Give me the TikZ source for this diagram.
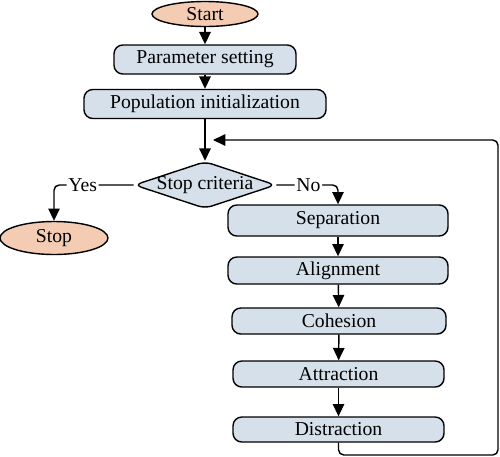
\documentclass[tikz,border=0pt]{standalone}
\usepackage{fontspec}
\setmainfont{Liberation Serif}
\usepackage{tikz}
\usetikzlibrary{shapes.geometric, arrows.meta, positioning}
\definecolor{termpeach}{HTML}{F4CCB4}
\definecolor{stepgray}{HTML}{D6E0EA}

\tikzset{
  termnode/.style={ellipse, draw=black, fill=termpeach, line width=0.8pt, inner sep=0pt, font=\fontsize{11.2}{11.2}\selectfont},
  procbox/.style={rectangle, rounded corners=5pt, draw=black, fill=stepgray, line width=0.8pt, inner sep=0pt, font=\fontsize{11.2}{11.2}\selectfont},
  decnode/.style={diamond, aspect=3, rounded corners=4pt, draw=black, fill=stepgray, line width=0.8pt, inner sep=-0.5pt, font=\fontsize{11.2}{11.2}\selectfont},
  flowarrow/.style={-{Triangle[length=7pt,width=6.5pt]}, line width=0.8pt, rounded corners=3pt},
  flowlabel/.style={fill=white, inner sep=1pt, font=\fontsize{11.2}{11.2}\selectfont}
}

\begin{document}
\begin{tikzpicture}
  \useasboundingbox (0,0) rectangle (10,-9.12);

  % Main column
  \node[termnode, minimum width=2.12cm, minimum height=0.50cm] (start) at (4.10,-0.28) {Start};
  \node[procbox, minimum width=3.64cm, minimum height=0.58cm] (param) at (4.10,-1.19) {Parameter setting};
  \node[procbox, minimum width=4.84cm, minimum height=0.58cm] (popinit) at (4.10,-2.08) {Population initialization};
  \node[decnode] (crit) at (4.10,-3.70) {Stop criteria};
  \node[termnode, minimum width=2.16cm, minimum height=0.66cm] (stop) at (1.08,-4.76) {Stop};

  % Update steps
  \node[procbox, minimum width=4.40cm, minimum height=0.62cm] (separ) at (6.76,-4.41) {Separation};
  \node[procbox, minimum width=4.40cm, minimum height=0.54cm] (align) at (6.76,-5.41) {Alignment};
  \node[procbox, minimum width=4.28cm, minimum height=0.52cm] (cohes) at (6.78,-6.42) {Cohesion};
  \node[procbox, minimum width=4.22cm, minimum height=0.52cm] (attract) at (6.77,-7.48) {Attraction};
  \node[procbox, minimum width=4.22cm, minimum height=0.50cm] (distract) at (6.77,-8.59) {Distraction};

  % Loop back corners
  \coordinate (loopcorner) at (9.96,-9.10);
  \coordinate (looptip) at (4.26,-2.80);

  % Connectors
  \draw[flowarrow] (start) -- (param);
  \draw[flowarrow] (param) -- (popinit);
  \draw[flowarrow] (popinit) -- (crit);
  \draw[flowarrow] (crit.west) -| node[flowlabel, pos=0.32] {Yes} (stop.north);
  \draw[flowarrow] (crit.east) -| node[flowlabel, pos=0.26] {No} (separ.north);
  \draw[flowarrow] (separ) -- (align);
  \draw[flowarrow] (align) -- (cohes);
  \draw[flowarrow] (cohes) -- (attract);
  \draw[flowarrow] (attract) -- (distract);
  \draw[flowarrow] (distract.south) |- (loopcorner) |- (looptip);
\end{tikzpicture}
\end{document}
